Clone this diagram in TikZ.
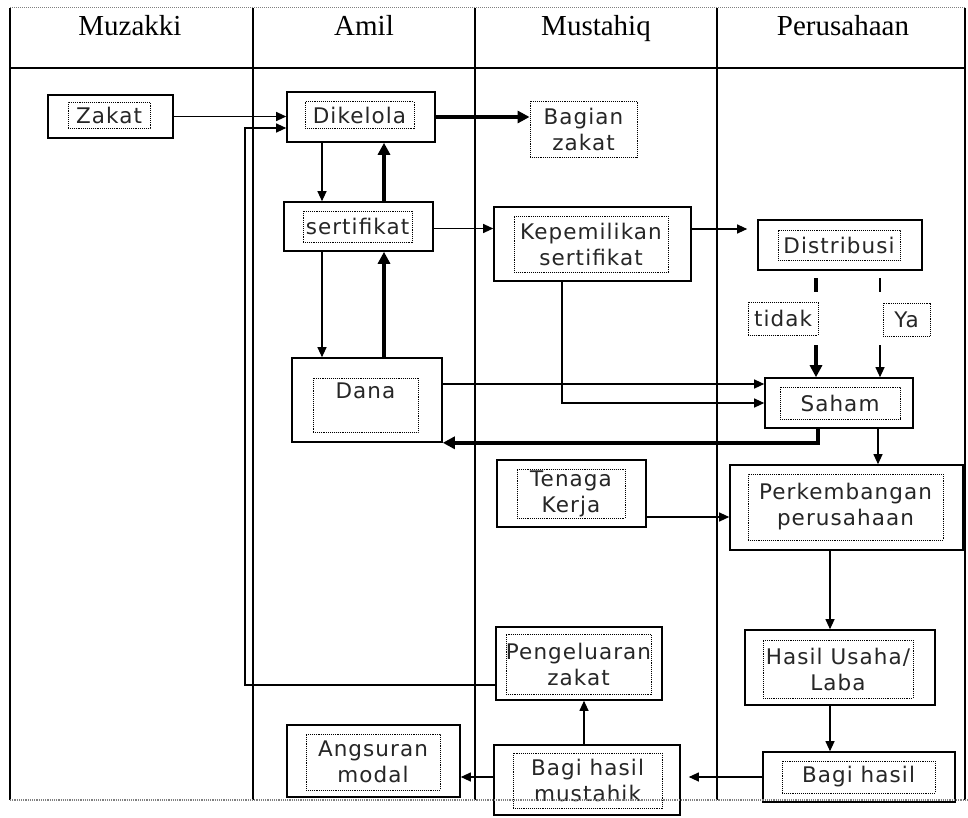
\documentclass[tikz,border=0pt]{standalone}
\usepackage{fontspec}
\setmainfont{DejaVu Sans}[LetterSpace=5]
\newfontfamily\hdr{Liberation Serif}
\usetikzlibrary{arrows.meta}
\begin{document}
\begin{tikzpicture}[x=1pt,y=-1pt,
 outer/.style={draw,line width=1.6pt,fill=white,inner sep=0pt},
 inner/.style={draw,densely dotted,line width=0.9pt,inner sep=0pt,align=center,text=black!85,font=\fontsize{21.5}{26}\selectfont},
 lbl/.style={inner sep=0pt,align=center,text=black!85,font=\fontsize{21.5}{26}\selectfont},
 hd/.style={anchor=base,font=\hdr\fontsize{29}{32}\selectfont},
 grid/.style={line width=1.2pt},
 arr/.style={-{Triangle[length=10pt,width=9pt]},line width=1.1pt},
 tarr/.style={-{Triangle[length=12pt,width=12pt]},line width=3.5pt},
 seg/.style={line width=1.1pt},
 tseg/.style={line width=3.5pt},
]
\useasboundingbox (0,0) rectangle (968,818);
% table
\draw[gray,densely dotted,line width=1pt] (10,8) -- (965,8);
\draw[grid] (10,8) -- (10,800);
\draw[grid] (253,8) -- (253,800);
\draw[grid] (475,8) -- (475,800);
\draw[grid] (717,8) -- (717,800);
\draw[grid] (965,8) -- (965,800);
\draw[line width=1.8pt] (10,68) -- (965,68);
\node[hd] (h1) at (130,36) {Muzakki};
\node[hd] (h2) at (364,36) {Amil};
\node[hd] (h3) at (596,36) {Mustahiq};
\node[hd] (h4) at (843,36) {Perusahaan};

% boxes
\node[outer,minimum width=125pt,minimum height=43pt] (zakat) at (110.5,116.5) {};
\node[inner,minimum width=82pt,minimum height=26pt] (zakati) at (109,115) {Zakat};

\node[outer,minimum width=148pt,minimum height=50pt] (dik) at (361,117) {};
\node[inner,minimum width=109pt,minimum height=27pt] (diki) at (359.5,115) {Dikelola};

\node[inner,fill=white,minimum width=107pt,minimum height=56pt] (bag) at (583.5,129) {Bagian\\zakat};

\node[outer,minimum width=149pt,minimum height=49pt] (sert) at (358.5,226.5) {};
\node[inner,minimum width=109pt,minimum height=31pt] (serti) at (357.5,226.5) {sertifikat};

\node[outer,minimum width=197pt,minimum height=74pt] (kep) at (592.5,244) {};
\node[inner,minimum width=154pt,minimum height=56pt] (kepi) at (591,244) {Kepemilikan\\sertifikat};

\node[outer,minimum width=164pt,minimum height=50pt] (dist) at (840,245) {};
\node[inner,minimum width=122pt,minimum height=30pt] (disti) at (839,245) {Distribusi};

\node[inner,minimum width=70pt,minimum height=33pt] (tidak) at (783,318.5) {tidak};
\node[inner,minimum width=47pt,minimum height=33pt] (ya) at (906.5,319.5) {Ya};

\node[outer,minimum width=150pt,minimum height=84pt] (dana) at (367,400) {};
\node[inner,minimum width=105pt,minimum height=54pt] (danai) at (365.5,405) {};
\node[lbl] (danat) at (365.5,391) {Dana};

\node[outer,minimum width=148pt,minimum height=50pt] (saham) at (839,403) {};
\node[inner,minimum width=120pt,minimum height=32pt] (sahami) at (840,403) {Saham};

\node[outer,minimum width=149pt,minimum height=67pt] (ten) at (571.5,493.5) {};
\node[inner,minimum width=108pt,minimum height=49pt] (teni) at (571,493.5) {Tenaga\\Kerja};

\node[outer,minimum width=233pt,minimum height=85pt] (perk) at (846.5,507.5) {};
\node[inner,minimum width=195pt,minimum height=66pt] (perki) at (845.5,507) {Perkembangan\\perusahaan};

\node[outer,minimum width=166pt,minimum height=73pt] (peng) at (579,663.5) {};
\node[inner,minimum width=127pt,minimum height=60pt] (pengi) at (578.5,664) {Pengeluaran\\zakat};

\node[outer,minimum width=190pt,minimum height=75pt] (has) at (840,667.5) {};
\node[inner,minimum width=150pt,minimum height=58pt] (hasi) at (838,669) {Hasil Usaha/\\Laba};

\node[outer,minimum width=173pt,minimum height=72pt] (ang) at (373.5,761) {};
\node[inner,minimum width=134pt,minimum height=56pt] (angi) at (373,762) {Angsuran\\modal};

\node[outer,minimum width=186pt,minimum height=70pt] (bm) at (587,780) {};
\node[inner,minimum width=149pt,minimum height=55pt] (bmi) at (587.5,780.5) {Bagi hasil\\mustahik};

\node[outer,minimum width=192pt,minimum height=50pt] (bh) at (859,777) {};
\node[inner,minimum width=153pt,minimum height=32pt] (bhi) at (858.5,777) {Bagi hasil};

\draw[gray,densely dotted,line width=1.2pt] (10,800) -- (968,800);

% helper coordinates
\coordinate (c245) at (245,0);
\coordinate (c322) at (322,0);
\coordinate (c384) at (384,0);
\coordinate (c562) at (562,0);
\coordinate (c584) at (584,0);
\coordinate (c818) at (818,0);
\coordinate (c830) at (830,0);
\coordinate (c878) at (878,0);
\coordinate (t1) at (816,278);
\coordinate (t2) at (816,292);
\coordinate (t3) at (816,345);
\coordinate (y1) at (880,278);
\coordinate (y2) at (880,292);
\coordinate (y3) at (880,345);
\coordinate (pengA) at ([yshift=-21.5pt]peng.west);
\coordinate (dikB) at ([yshift=-11pt]dik.west);
\coordinate (danaA) at ([yshift=16pt]dana.east);
\coordinate (tenA) at ([yshift=-23.5pt]ten.east);
\coordinate (bmA) at ([yshift=3pt]bm.west);
\coordinate (kepA) at ([yshift=15pt]kep.east);

% connectors
\draw[arr] (zakat.east) -- (zakat.east -| dik.west);
\draw[arr] (pengA) -- (pengA -| c245) -- (c245 |- dikB) -- (dikB);
\draw[tarr] (dik.east) -- (dik.east -| bag.west);
\draw[arr] (dik.south -| c322) -- (sert.north -| c322);
\draw[tarr] (sert.north -| c384) -- (dik.south -| c384);
\draw[arr] (sert.south -| c322) -- (dana.north -| c322);
\draw[tarr] (dana.north -| c384) -- (sert.south -| c384);
\draw[arr] ([yshift=-2pt]sert.east) -- ([yshift=-2pt]sert.east -| kep.west);
\draw[arr,shorten >=10pt] (kepA) -- (kepA -| dist.west);
\draw[tseg] (t1) -- (t2);
\draw[tarr] (t3) -- (saham.north -| t3);
\draw[seg] (y1) -- (y2);
\draw[arr] (y3) -- (saham.north -| y3);
\draw[arr] (kep.south -| c562) |- (saham.west);
\draw[arr] (danaA) -- (danaA -| saham.west);
\draw[tarr] (saham.south -| c818) |- (dana.south east);
\draw[arr] (saham.south -| c878) -- (perk.north -| c878);
\draw[arr] (tenA) -- (tenA -| perk.west);
\draw[arr] (perk.south -| c830) -- (has.north -| c830);
\draw[arr] (has.south -| c830) -- (bh.north -| c830);
\draw[arr,shorten >=8pt] (bh.west) -- (bh.west -| bm.east);
\draw[arr] (bmA) -- (bmA -| ang.east);
\draw[arr] (bm.north -| c584) -- (peng.south -| c584);
\end{tikzpicture}
\end{document}
